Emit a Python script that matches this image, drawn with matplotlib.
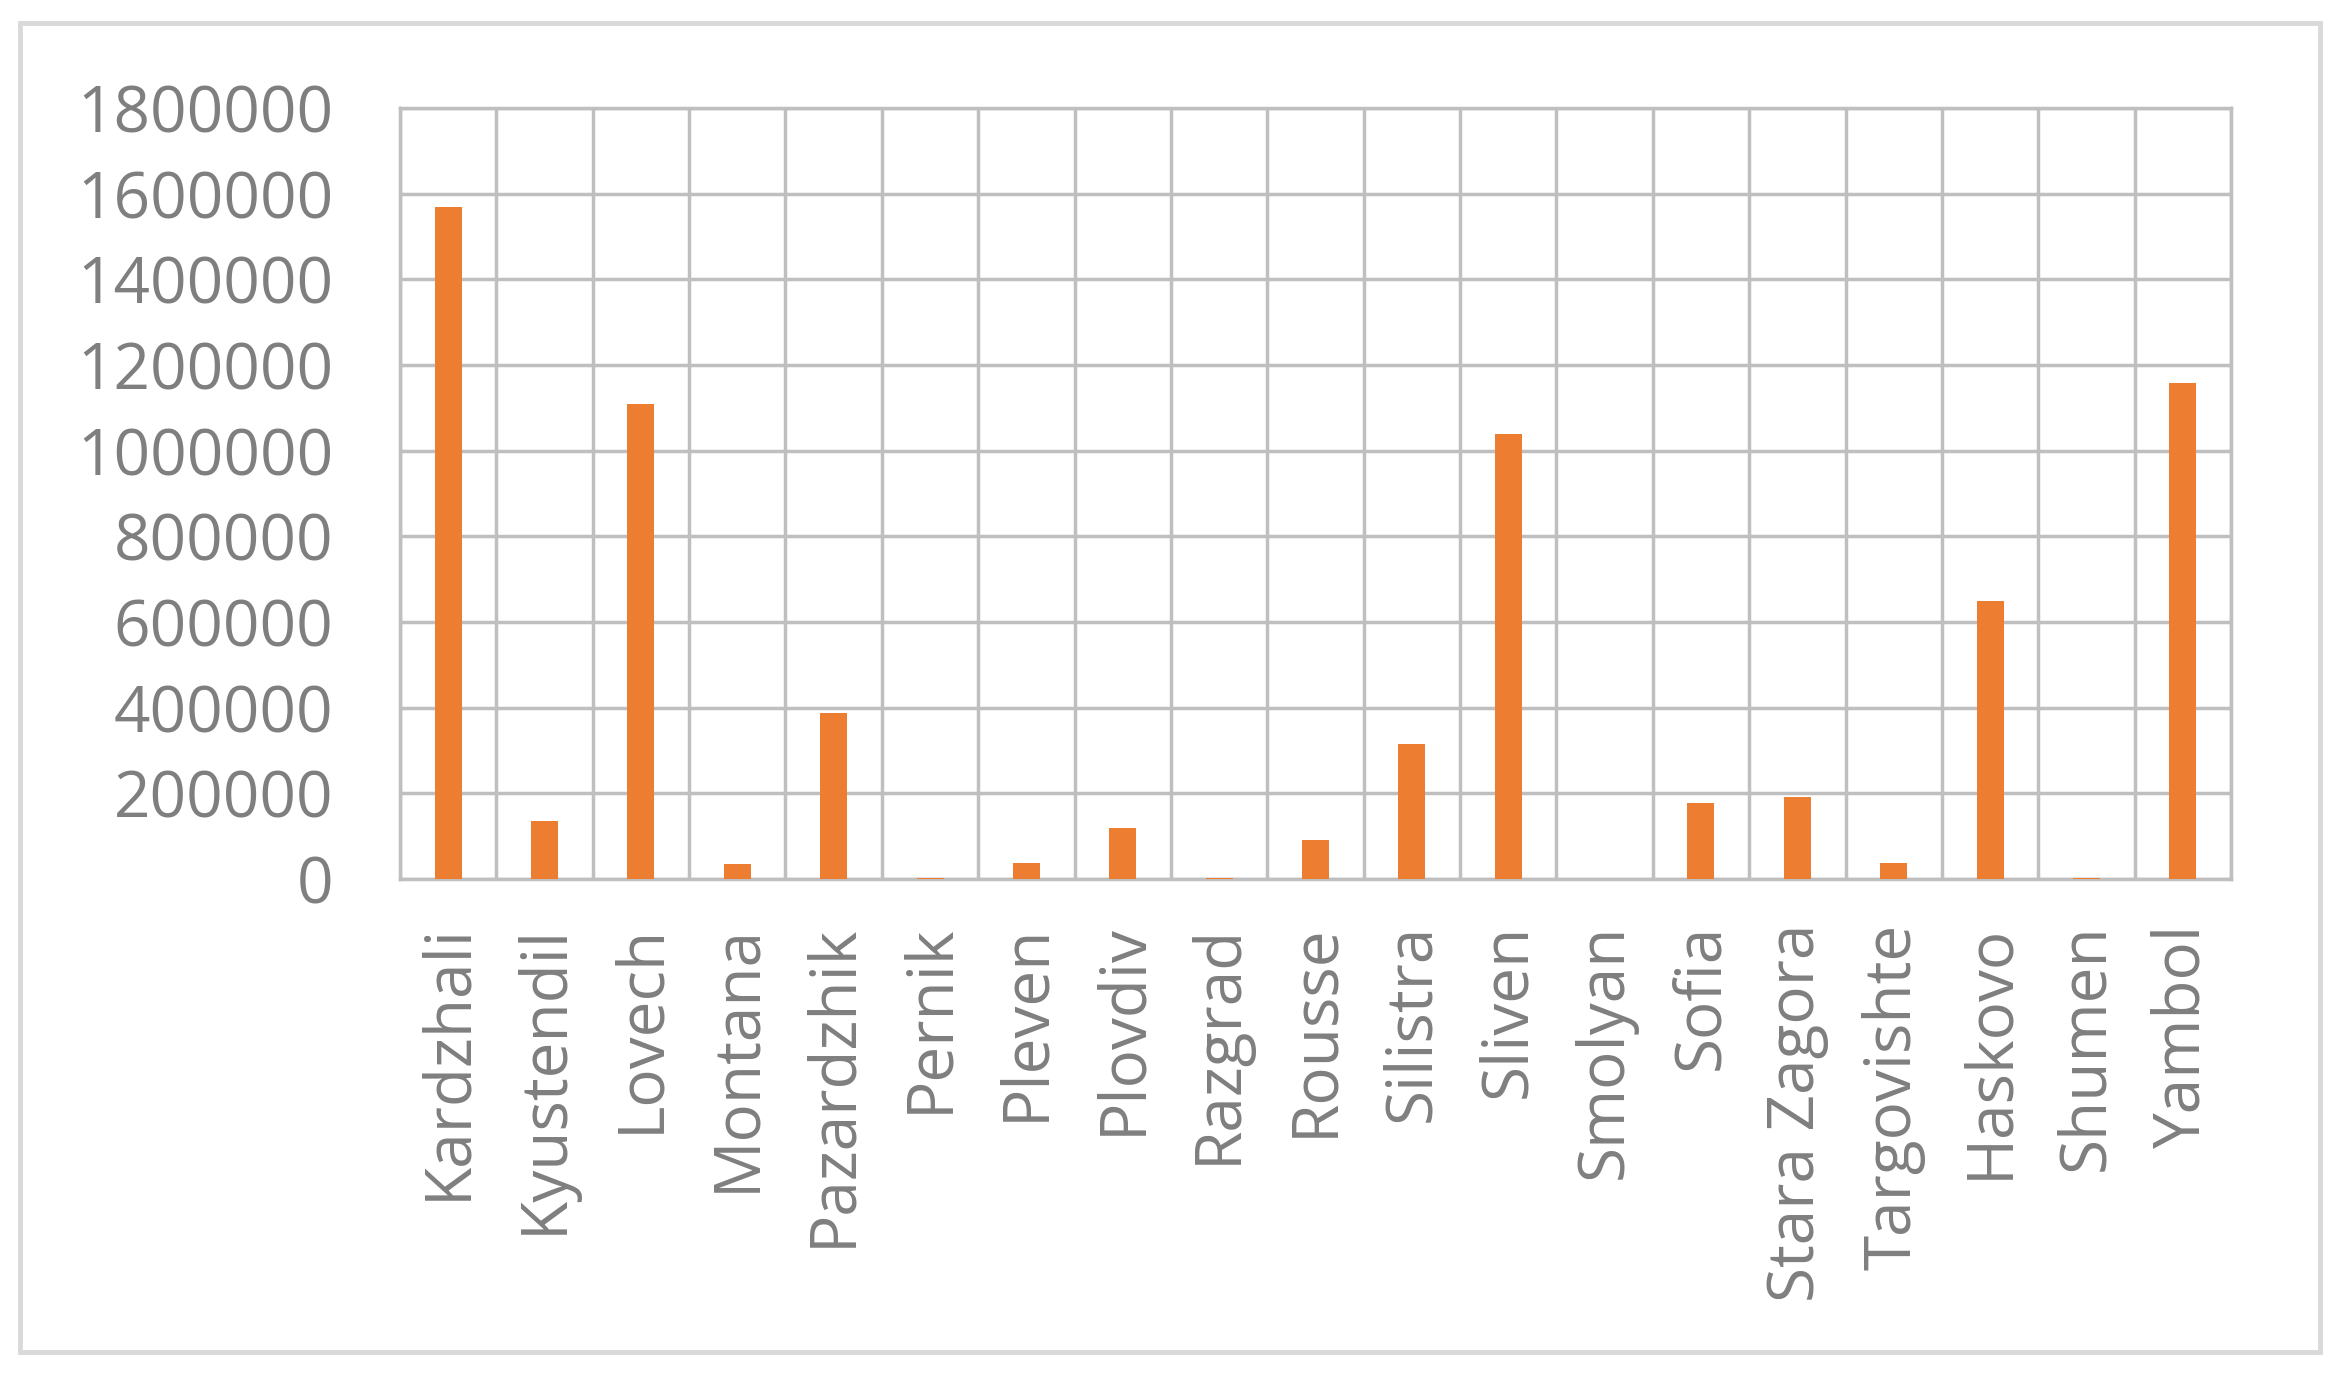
import numpy as np
import matplotlib.pyplot as plt
from matplotlib.patches import Rectangle

regions = ['Kardzhali', 'Kyustendil', 'Lovech', 'Montana', 'Pazardzhik', 'Pernik',
           'Pleven', 'Plovdiv', 'Razgrad', 'Rousse', 'Silistra', 'Sliven', 'Smolyan',
           'Sofia', 'Stara Zagora', 'Targovishte', 'Haskovo', 'Shumen', 'Yambol']
values = [1569000, 136000, 1108000, 35000, 388000, 2500,
          38000, 119000, 3000, 91000, 315000, 1038000, 0,
          178000, 192000, 38000, 650000, 2500, 1157000]
yticks = [0, 200000, 400000, 600000, 800000, 1000000, 1200000, 1400000, 1600000, 1800000]

plt.rcParams['font.family'] = ['Open Sans', 'DejaVu Sans']
grid_col = '#bfbfbf'
text_col = '#7f7f7f'

W, H = 2349, 1380
fig = plt.figure(figsize=(W / 100, H / 100), dpi=100)
ax = fig.add_axes([400 / W, 1 - 879 / H, (2231 - 400) / W, (879 - 108) / H])

x = np.arange(len(regions))
ax.bar(x, values, width=0.28, color='#ED7D31', zorder=3)

ax.set_xlim(-0.5, len(regions) - 0.5)
ax.set_ylim(0, 1800000)
ax.set_yticks(yticks)
ax.set_yticklabels([str(v) for v in yticks])
ax.set_xticks(x)
ax.set_xticklabels(regions, rotation=90)
ax.set_xticks(np.arange(len(regions) + 1) - 0.5, minor=True)

ax.grid(axis='y', which='major', color=grid_col, linewidth=2.5, zorder=0)
ax.grid(axis='x', which='minor', color=grid_col, linewidth=2.5, zorder=0)
ax.tick_params(axis='both', which='both', length=0, labelsize=46, colors=text_col)
ax.tick_params(axis='x', pad=32)
ax.tick_params(axis='y', pad=48)
for s in ax.spines.values():
    s.set_color(grid_col)
    s.set_linewidth(2.5)

fig.patches.append(Rectangle((20 / W, 1 - 1352 / H), 2300 / W, (1352 - 23) / H,
                             transform=fig.transFigure, fill=False,
                             edgecolor='#d9d9d9', linewidth=3.5))

fig.savefig('out.png', dpi=100)
